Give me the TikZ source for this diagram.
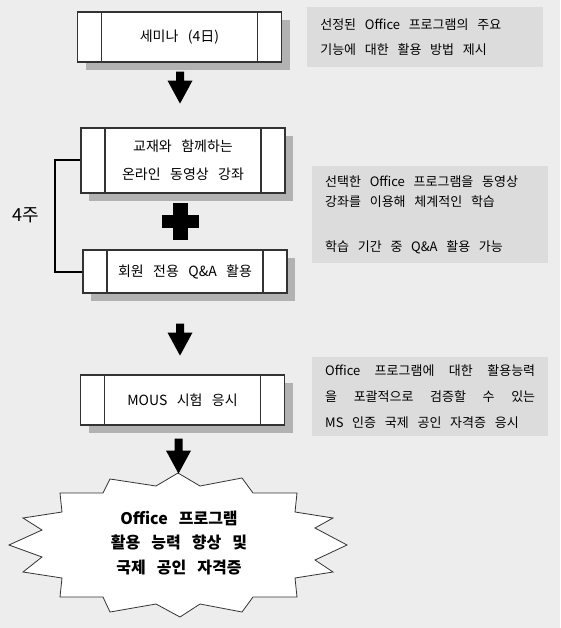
\documentclass[tikz,border=0pt]{standalone}
\usepackage{fontspec}
\setmainfont[WordSpace=3]{Noto Sans CJK KR}
\usetikzlibrary{positioning,calc,shadows}
\definecolor{paper}{HTML}{EDEDED}
\definecolor{notefill}{HTML}{DCDCDC}
\definecolor{shade}{HTML}{B2B2B2}
\definecolor{edge}{HTML}{333333}
\tikzset{
  stepbox/.style={draw=edge,line width=1.2pt,fill=white,minimum width=204pt,inner sep=0pt,align=center,
    font=\fontsize{14}{28}\selectfont,
    drop shadow={shadow xshift=8pt,shadow yshift=-8pt,fill=shade,opacity=1},
    path picture={\draw[edge,line width=1.2pt]
      ([xshift=24pt]path picture bounding box.north west) -- ([xshift=24pt]path picture bounding box.south west)
      ([xshift=-24pt]path picture bounding box.north east) -- ([xshift=-24pt]path picture bounding box.south east);}},
  note/.style={fill=notefill,minimum width=236pt,text width=210pt,inner xsep=13pt,inner ysep=0pt,align=flush left},
  downarrow/.pic={\fill (-4,0) -- (4,0) -- (4,#1) -- (12.5,#1) -- (0,#1+23) -- (-12.5,#1) -- (-4,#1) -- cycle;},
  plus/.pic={\fill (-7.5,-18) rectangle (7.5,18); \fill (-18.5,-6.5) rectangle (18.5,6.5);}
}
\begin{document}
\begin{tikzpicture}[x=1pt,y=-1pt]
  \fill[paper] (0,0) rectangle (560,628);
  \node[stepbox,minimum height=50pt] (seminar) at (179.5,37) {세미나 (4日)};
  \node[stepbox,minimum height=65pt] (lecture) at (183,160.5) {교재와 함께하는\\온라인 동영상 강좌};
  \node[stepbox,minimum height=43pt] (qna) at (185,271.5) {회원 전용 Q\&A 활용};
  \node[stepbox,minimum height=50pt] (mous) at (182.5,400) {MOUS 시험 응시};
  \draw[line width=2pt] (lecture.west) -- ++(-25,0) |- (qna.west);
  \node[font=\fontsize{18}{20}\selectfont] (weeks) at (26,215) {4주};
  \node[note,minimum height=60pt,right=25pt of seminar,font=\fontsize{13}{25}\selectfont] (note1)
    {선정된 Office 프로그램의 주요\\기능에 대한 활용 방법 제시};
  \node[note,minimum height=97pt,anchor=north west,font=\fontsize{13}{20}\selectfont] (note2) at (312,166)
    {선택한 Office 프로그램을 동영상\\강좌를 이용해 체계적인 학습\\[25pt]학습 기간 중 Q\&A 활용 가능};
  \node[note,minimum height=79pt,anchor=north west,font=\fontsize{13}{26}\selectfont] (note3) at (312,357)
    {\makebox[210pt]{Office\hfill 프로그램에\hfill 대한\hfill 활용능력}\\\makebox[210pt]{을\hfill 포괄적으로\hfill 검증할\hfill 수\hfill 있는}\\MS 인증 국제 공인 자격증 응시};
  \coordinate (burst) at (178,545);
  \draw[edge,fill=white,line width=0.8pt,shift={(burst)}]
    (0,-72) -- (22,-59) -- (64,-67) -- (75,-52) -- (119,-52) -- (117,-33) -- (155,-27) -- (137,-17) -- (169,0)
    -- (137,15) -- (155,27) -- (117,33) -- (119,52) -- (75,52) -- (64,67) -- (22,59) -- (2,72)
    -- (-22,59) -- (-68,67) -- (-75,52) -- (-118,52) -- (-116,33) -- (-155,27) -- (-136,12) -- (-169,0)
    -- (-136,-15) -- (-155,-27) -- (-116,-33) -- (-118,-52) -- (-75,-52) -- (-68,-66) -- (-22,-59) -- cycle;
  \node[font=\bfseries\fontsize{16}{24.5}\selectfont,align=center] (goal) at ($(burst)+(1,-2)$)
    {Office 프로그램\\활용 능력 향상 및\\국제 공인 자격증};
  \pic at ($(seminar.south -| burst)+(2,9)$) {downarrow=9};
  \pic at ($(lecture.south -| seminar.south)!0.5!(qna.north -| seminar.south)+(1,0)$) {plus};
  \pic at ($(qna.south -| burst)+(2,30)$) {downarrow=9};
  \pic at ($(mous.south -| burst)+(0.5,13)$) {downarrow=12};
\end{tikzpicture}
\end{document}
